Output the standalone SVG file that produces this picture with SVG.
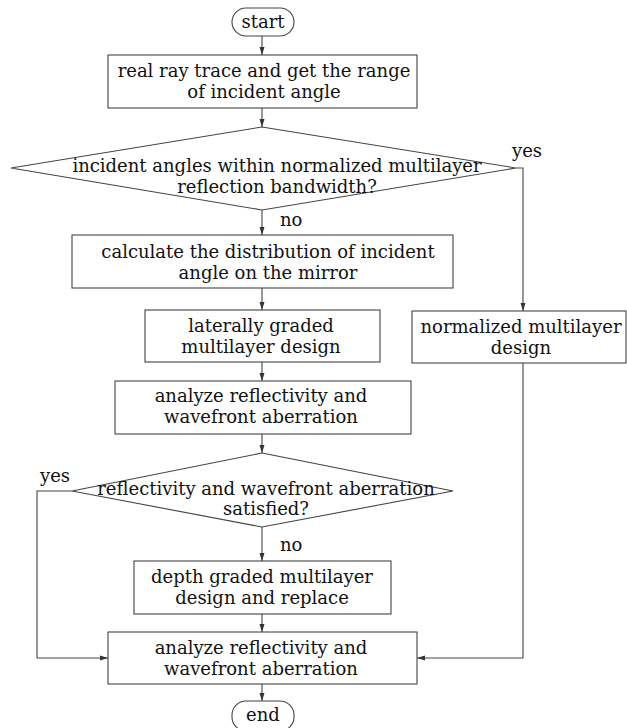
<svg xmlns="http://www.w3.org/2000/svg" width="627" height="728" viewBox="0 0 627 728">
<style>
.n{fill:#fff;stroke:#444;stroke-width:1.1}
.t{font-family:"DejaVu Serif",serif;font-size:18px;fill:#111;text-anchor:middle}
.l{font-family:"DejaVu Serif",serif;font-size:18px;fill:#111}
.c{fill:none;stroke:#444;stroke-width:1.1}
</style>
<defs>
<marker id="a" markerWidth="8" markerHeight="6" refX="8" refY="3" orient="auto" markerUnits="userSpaceOnUse">
<path d="M0,0.5 L8,3 L0,5.5 Z" fill="#333"/>
</marker>
</defs>
<rect width="627" height="728" fill="#fff"/>
<g id="connectors">
<path class="c" d="M262,36 V55" marker-end="url(#a)"/>
<path class="c" d="M262,108 V127" marker-end="url(#a)"/>
<path class="c" d="M262,210 V235" marker-end="url(#a)"/>
<path class="c" d="M516,168 H523 V311" marker-end="url(#a)"/>
<path class="c" d="M262,288 V310" marker-end="url(#a)"/>
<path class="c" d="M262,362 V381" marker-end="url(#a)"/>
<path class="c" d="M262,434 V453" marker-end="url(#a)"/>
<path class="c" d="M72,491 H37 V658 H108" marker-end="url(#a)"/>
<path class="c" d="M262,527 V561" marker-end="url(#a)"/>
<path class="c" d="M262,614 V632" marker-end="url(#a)"/>
<path class="c" d="M523,363 V658 H417" marker-end="url(#a)"/>
<path class="c" d="M262,684 V701" marker-end="url(#a)"/>
<text class="l" x="512" y="157">yes</text>
<text class="l" x="280" y="226">no</text>
<text class="l" x="40" y="482">yes</text>
<text class="l" x="280" y="551">no</text>
</g>
<g id="start">
<rect class="n" x="232" y="8" width="62" height="28" rx="14"/>
<text class="t" x="263" y="28">start</text>
</g>
<g id="ray-trace">
<rect class="n" x="108" y="55" width="309" height="53"/>
<text class="t" x="264" y="77">real ray trace and get the range</text>
<text class="t" x="264" y="98">of incident angle</text>
</g>
<g id="decision1">
<polygon class="n" points="262,127 516,168 262,210 11,168"/>
<text class="t" x="277" y="172">incident angles within normalized multilayer</text>
<text class="t" x="277" y="193">reflection bandwidth?</text>
</g>
<g id="distribution">
<rect class="n" x="72" y="235" width="381" height="53"/>
<text class="t" x="268" y="258">calculate the distribution of incident</text>
<text class="t" x="268" y="279">angle on the mirror</text>
</g>
<g id="lateral">
<rect class="n" x="145" y="310" width="235" height="52"/>
<text class="t" x="261" y="332">laterally graded</text>
<text class="t" x="261" y="353">multilayer design</text>
</g>
<g id="normalized">
<rect class="n" x="412" y="311" width="214" height="52"/>
<text class="t" x="521" y="333">normalized multilayer</text>
<text class="t" x="521" y="354">design</text>
</g>
<g id="analyze1">
<rect class="n" x="115" y="381" width="296" height="53"/>
<text class="t" x="261" y="402">analyze reflectivity and</text>
<text class="t" x="261" y="423">wavefront aberration</text>
</g>
<g id="decision2">
<polygon class="n" points="262,453 453,491 262,527 72,491"/>
<text class="t" x="266" y="495">reflectivity and wavefront aberration</text>
<text class="t" x="266" y="515">satisfied?</text>
</g>
<g id="depth">
<rect class="n" x="134" y="561" width="257" height="53"/>
<text class="t" x="262" y="583">depth graded multilayer</text>
<text class="t" x="262" y="604">design and replace</text>
</g>
<g id="analyze2">
<rect class="n" x="108" y="632" width="309" height="52"/>
<text class="t" x="261" y="654">analyze reflectivity and</text>
<text class="t" x="261" y="675">wavefront aberration</text>
</g>
<g id="end">
<rect class="n" x="232" y="701" width="62" height="30" rx="14"/>
<text class="t" x="263" y="721">end</text>
</g>
</svg>
